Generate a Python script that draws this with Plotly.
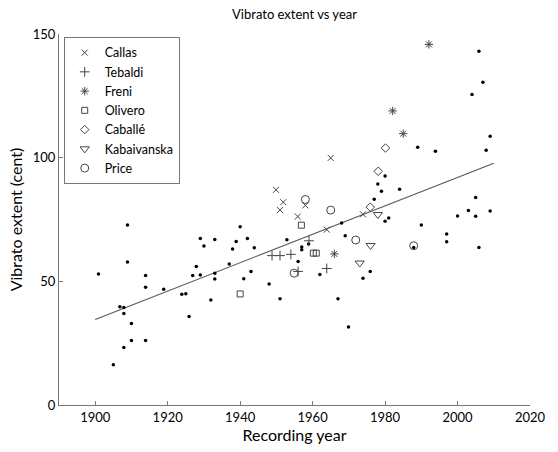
import plotly.graph_objects as go

# ---- data ----
other_years = [1908.9, 1929.0, 1908.9, 1900.9, 1913.9, 1927.9, 1926.9, 1929.0, 1913.9, 1918.9,
               1923.9, 1925.0, 1906.8, 1907.9, 1907.9, 1910.0, 1925.9, 1910.0, 1913.9, 1907.9,
               1905.0,
               1940.0, 1933.0, 1938.9, 1942.0, 1930.0, 1937.9, 1943.9, 1952.9, 1957.0, 1957.0,
               1937.0, 1956.0, 1933.0, 1933.0, 1943.0, 1941.0, 1948.0, 1931.9, 1951.0,
               1980.0, 1978.0, 1979.0, 1984.0, 1977.0, 1981.0, 1980.0, 1968.0, 1969.0, 1958.9,
               1962.0, 1975.9, 1973.9, 1967.0, 1969.9,
               2005.9, 2007.0, 2004.0, 2009.0, 2007.9, 1989.0, 1993.9, 2005.0, 2003.0, 2009.0,
               2000.0, 2005.0, 1990.0, 1997.0, 1997.0, 2005.9, 1987.9]
other_vals = [72.8, 67.3, 57.8, 53.0, 52.4, 56.0, 52.4, 52.6, 47.6, 46.8,
              44.8, 45.0, 39.7, 39.4, 37.0, 33.0, 35.8, 26.1, 26.1, 23.2,
              16.3,
              72.1, 66.9, 66.1, 67.3, 64.3, 63.1, 63.6, 66.8, 63.9, 62.8,
              57.0, 58.0, 53.3, 50.9, 54.0, 51.0, 48.9, 42.5, 43.0,
              92.6, 89.4, 86.4, 87.2, 83.2, 75.6, 74.3, 73.6, 68.4, 65.1,
              52.8, 54.0, 51.2, 43.0, 31.5,
              143.0, 130.5, 125.5, 108.7, 103.0, 104.2, 102.6, 83.9, 78.6, 78.4,
              76.4, 76.3, 72.8, 69.1, 66.0, 63.7, 63.7]

callas_years = [1949.9, 1951.9, 1951.0, 1955.9, 1958.0, 1965.0, 1973.9, 1963.9]
callas_vals = [87.0, 82.0, 78.8, 76.2, 80.7, 99.9, 77.1, 70.9]

tebaldi_years = [1948.8, 1951.0, 1954.0, 1959.0, 1956.0, 1963.9]
tebaldi_vals = [60.4, 60.4, 60.9, 66.4, 54.0, 55.2]

freni_years = [1966.0, 1982.1, 1985.0, 1992.1]
freni_vals = [61.1, 118.9, 109.7, 145.8]

olivero_years = [1940.0, 1956.9, 1960.2, 1961.0]
olivero_vals = [44.9, 72.7, 61.4, 61.4]

caballe_years = [1975.9, 1978.1, 1980.1]
caballe_vals = [80.0, 94.5, 103.9]

kabaivanska_years = [1978.0, 1976.0, 1973.0]
kabaivanska_vals = [77.0, 64.5, 57.4]

price_years = [1958.0, 1954.9, 1965.0, 1971.9, 1987.9]
price_vals = [83.1, 53.3, 78.8, 66.7, 64.4]

trend_years = [1900, 2010]
trend_vals = [34.6, 97.7]

x_ticks = [1900, 1920, 1940, 1960, 1980, 2000, 2020]
y_ticks = [0, 50, 100, 150]

FONT = "Lato"
MK = "#444444"

fig = go.Figure()

fig.add_trace(go.Scatter(x=trend_years, y=trend_vals, mode="lines",
                         line=dict(color="#555555", width=1.1), showlegend=False,
                         hoverinfo="skip"))
fig.add_trace(go.Scatter(x=other_years, y=other_vals, mode="markers",
                         marker=dict(symbol="circle", size=3.5, color="black"),
                         showlegend=False))

singers = [
    ("Callas", callas_years, callas_vals, "x-thin-open", 6),
    ("Tebaldi", tebaldi_years, tebaldi_vals, "cross-thin-open", 7),
    ("Freni", freni_years, freni_vals, "asterisk-open", 7),
    ("Olivero", olivero_years, olivero_vals, "square-open", 6),
    ("Caballé", caballe_years, caballe_vals, "diamond-open", 6.5),
    ("Kabaivanska", kabaivanska_years, kabaivanska_vals, "triangle-down-open", 8),
    ("Price", price_years, price_vals, "circle-open", 8),
]
for name, xs, ys, sym, sz in singers:
    fig.add_trace(go.Scatter(x=xs, y=ys, mode="markers", name=name,
                             marker=dict(symbol=sym, size=sz, color=MK,
                                         line=dict(color=MK, width=1))))

fig.update_layout(
    width=558, height=452,
    margin=dict(l=59, r=15, t=34, b=44),
    paper_bgcolor="white", plot_bgcolor="white",
    font=dict(family=FONT, size=13, color="black"),
    title=dict(text="Vibrato extent vs year", x=0.5, xref="paper", xanchor="center",
               y=1 - 14 / 452, yanchor="middle", font=dict(size=13)),
    legend=dict(x=0.01, y=0.992, xanchor="left", yanchor="top",
                bordercolor="#777777", borderwidth=1, bgcolor="white",
                font=dict(size=12.5), itemwidth=30, tracegroupgap=0),
    showlegend=True,
)
fig.update_xaxes(range=[1890, 2020], tickvals=x_ticks, ticks="inside", ticklen=4,
                 tickcolor="#777777", showline=True, linecolor="#777777", linewidth=1,
                 showgrid=False, zeroline=False, title=dict(text="Recording year", standoff=4),
                 tickfont=dict(size=13), ticklabeloverflow="allow")
fig.update_yaxes(range=[0, 150], tickvals=y_ticks, ticks="inside", ticklen=4,
                 tickcolor="#777777", showline=True, linecolor="#777777", linewidth=1,
                 showgrid=False, zeroline=False, title=dict(text="Vibrato extent (cent)", standoff=6),
                 tickfont=dict(size=13))

fig.write_html("out.html")
